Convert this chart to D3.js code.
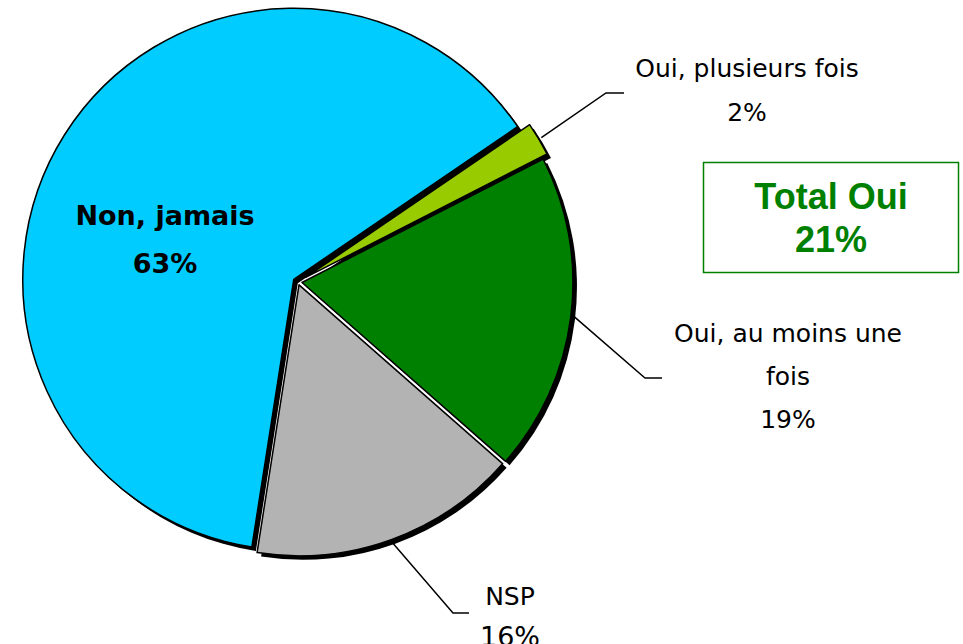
<!DOCTYPE html>
<html>
<head>
<meta charset="utf-8">
<script src="https://cdn.jsdelivr.net/npm/d3@7"></script>
<style>
  body { margin: 0; background: #fff; }
  #pie-chart { width: 963px; height: 644px; }
  text { font-family: "DejaVu Sans", sans-serif; }
</style>
</head>
<body>
<div id="pie-chart"></div>
<script>
// data
var categories = ["Oui, plusieurs fois", "Oui, au moins une fois", "NSP", "Non, jamais"];
var values     = [2, 19, 16, 63];
var colors     = ["#99cc00", "#008000", "#b3b3b3", "#00ccff"];
var totalLabel = ["Total Oui", "21%"];

// label layout (text lines, anchor, baselines, leader elbow/end)
var labelLines = [
  ["Oui, plusieurs fois", "2%"],
  ["Oui, au moins une", "fois", "19%"],
  ["NSP", "16%"],
  ["Non, jamais", "63%"]
];
var labelPos = [
  {x: 747, y: [77, 121], elbow: [606, 93], end: [624, 93]},
  {x: 788, y: [342, 385, 428], elbow: [645, 378], end: [662, 378]},
  {x: 510, y: [605, 646], elbow: [453, 613], end: [469, 613]},
  {x: 165, y: [225, 273], inside: true}
];
var explode = [9, 4, 3, 5];

var $container = d3.select('#pie-chart');
var width  = parseFloat($container.style("width"));
var height = parseFloat($container.style("height"));

var cx = 298, cy = 282, R = 271;
var shadow = 4;
var startDeg = 55.7;

var svg = $container.append("svg")
  .attr("width", width)
  .attr("height", height);

var pie = d3.pie()
  .sort(null)
  .value(function(d) { return d; })
  .startAngle(startDeg * Math.PI / 180)
  .endAngle(startDeg * Math.PI / 180 + 2 * Math.PI);

var arcs = pie(values);

var arc = d3.arc().innerRadius(0).outerRadius(R);

function offset(d, i) {
  var a = (d.startAngle + d.endAngle) / 2;
  return [cx + explode[i] * Math.sin(a), cy - explode[i] * Math.cos(a)];
}

// shadows
svg.append("g").selectAll("path")
  .data(arcs)
  .join("path")
  .attr("transform", function(d, i) {
    var o = offset(d, i);
    return "translate(" + (o[0] + shadow) + "," + (o[1] + shadow) + ")";
  })
  .attr("d", arc)
  .attr("fill", "#000");

// slices
svg.append("g").selectAll("path")
  .data(arcs)
  .join("path")
  .attr("transform", function(d, i) {
    var o = offset(d, i);
    return "translate(" + o[0] + "," + o[1] + ")";
  })
  .attr("d", arc)
  .attr("fill", function(d, i) { return colors[i]; })
  .attr("stroke", "#000")
  .attr("stroke-width", 1.5)
  .attr("stroke-linejoin", "round");

/****************************************
* Leader lines and labels
*****************************************/

var outerArc = d3.arc().innerRadius(R + 3).outerRadius(R + 3);

arcs.forEach(function(d, i) {
  var p = labelPos[i];
  if (!p.inside) {
    var o = offset(d, i);
    var c = outerArc.centroid(d);
    var pts = [[o[0] + c[0], o[1] + c[1]], p.elbow, p.end];
    svg.append("path")
      .attr("d", d3.line()(pts))
      .attr("fill", "none")
      .attr("stroke", "#000")
      .attr("stroke-width", 1.5);
  }
  labelLines[i].forEach(function(t, k) {
    svg.append("text")
      .attr("x", p.x)
      .attr("y", p.y[k])
      .attr("text-anchor", "middle")
      .style("font-size", p.inside ? "27px" : (i === 2 && k === 1 ? "27px" : "25px"))
      .style("font-weight", p.inside ? "bold" : "normal")
      .attr("fill", "#000")
      .text(t);
  });
});

// Total Oui box
svg.append("rect")
  .attr("x", 703.5)
  .attr("y", 162.5)
  .attr("width", 255)
  .attr("height", 110)
  .attr("fill", "none")
  .attr("stroke", "#008000")
  .attr("stroke-width", 1.5);

svg.selectAll(".total")
  .data(totalLabel)
  .join("text")
  .attr("class", "total")
  .attr("x", 831)
  .attr("y", function(d, i) { return 209 + i * 43; })
  .attr("text-anchor", "middle")
  .style("font-family", "'Liberation Sans', Arial, sans-serif")
  .style("font-size", "36px")
  .style("font-weight", "bold")
  .attr("fill", "#008000")
  .text(function(d) { return d; });
</script>
</body>
</html>
